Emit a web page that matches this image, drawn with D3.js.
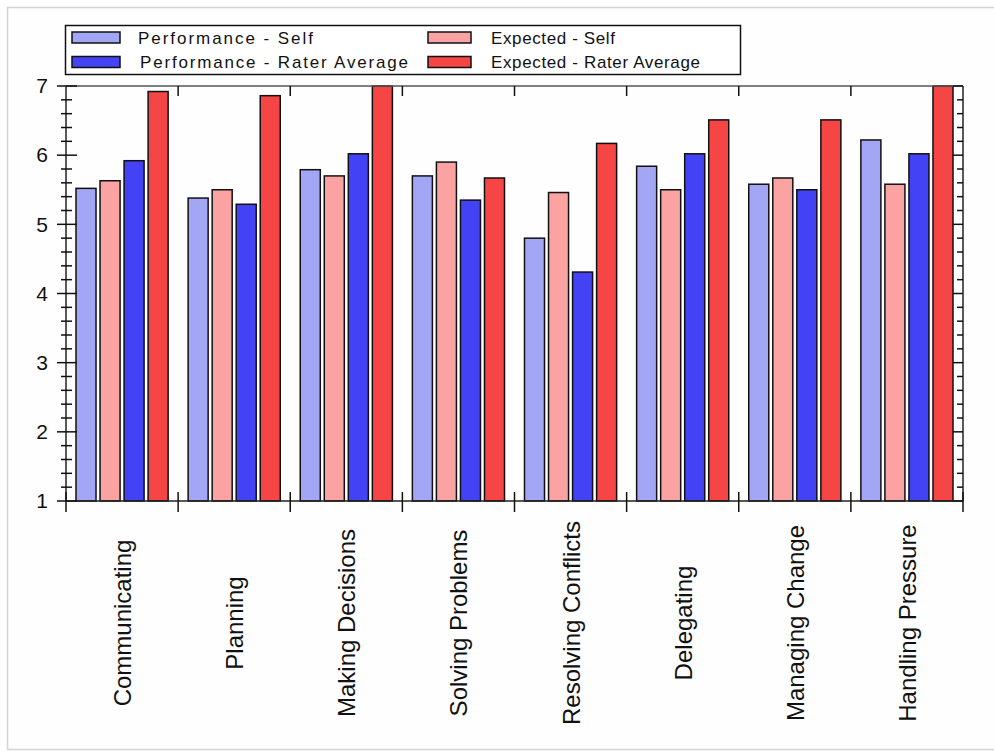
<!DOCTYPE html>
<html>
<head>
<meta charset="utf-8">
<script src="https://cdn.jsdelivr.net/npm/d3@7"></script>
<style>
  html, body { margin: 0; padding: 0; background: #ffffff; }
  svg { display: block; }
  text { font-family: "Liberation Sans", Arial, sans-serif; fill: #111; }
</style>
</head>
<body>
<svg id="chart" width="994" height="752"></svg>
<script>
// ---------- data ----------
const categories = ["Communicating", "Planning", "Making Decisions", "Solving Problems",
                    "Resolving Conflicts", "Delegating", "Managing Change", "Handling Pressure"];
const seriesNames = ["Performance - Self", "Expected - Self", "Performance - Rater Average", "Expected - Rater Average"];
const perfSelf  = [5.52, 5.38, 5.79, 5.70, 4.80, 5.84, 5.58, 6.22];
const expSelf   = [5.63, 5.50, 5.70, 5.90, 5.46, 5.50, 5.67, 5.58];
const perfRater = [5.92, 5.29, 6.02, 5.35, 4.31, 6.02, 5.50, 6.02];
const expRater  = [6.92, 6.86, 7.00, 5.67, 6.17, 6.51, 6.51, 7.00];
const yTickLabels = [1, 2, 3, 4, 5, 6, 7];
const yDomain = [1, 7];

// ---------- styling / layout ----------
const colors = ["#a3a6f5", "#fba3a3", "#4343f5", "#f54545"];
const seriesValues = [perfSelf, expSelf, perfRater, expRater];
const plot = { left: 66, right: 963, top: 86, bottom: 501 };

const svg = d3.select("#chart");

// outer frame
svg.append("rect").attr("x", 7.5).attr("y", 7.5).attr("width", 1000).attr("height", 742)
  .attr("fill", "#fefefe").attr("stroke", "#d4d4d4").attr("stroke-width", 1.5);

const x0 = d3.scaleBand().domain(categories).range([plot.left, plot.right]).padding(0);
const x1 = d3.scaleBand().domain(seriesNames).range([10, x0.bandwidth() - 10]).paddingInner(0.167).paddingOuter(0);
const y = d3.scaleLinear().domain(yDomain).range([plot.bottom, plot.top]);

// bars
const groups = svg.append("g").selectAll("g").data(categories).join("g")
  .attr("transform", d => `translate(${x0(d)},0)`);
groups.selectAll("rect")
  .data((d, i) => seriesNames.map((s, k) => ({ s, k, v: seriesValues[k][i] })))
  .join("rect")
  .attr("x", d => x1(d.s))
  .attr("width", x1.bandwidth())
  .attr("y", d => y(d.v))
  .attr("height", d => y(yDomain[0]) - y(d.v))
  .attr("fill", d => colors[d.k])
  .attr("stroke", "#111")
  .attr("stroke-width", 1.5);

// frame lines
const frame = svg.append("g").attr("stroke", "#222").attr("stroke-width", 1.5);
frame.append("line").attr("x1", plot.left).attr("x2", plot.right).attr("y1", plot.top).attr("y2", plot.top).attr("stroke", "#555");
frame.append("line").attr("x1", plot.left).attr("x2", plot.right).attr("y1", plot.bottom).attr("y2", plot.bottom);
frame.append("line").attr("x1", plot.left).attr("x2", plot.left).attr("y1", plot.top).attr("y2", plot.bottom);
frame.append("line").attr("x1", plot.right).attr("x2", plot.right).attr("y1", plot.top).attr("y2", plot.bottom);

// y ticks (minor every 0.2)
const minor = d3.range(yDomain[0], yDomain[1] + 0.001, 0.2).map(v => +v.toFixed(2));
const isMajor = v => Math.abs(v - Math.round(v)) < 1e-6;
const tk = svg.append("g").attr("stroke", "#111").attr("stroke-width", 1.5);
minor.forEach(v => {
  const yy = y(v);
  if (isMajor(v)) {
    tk.append("line").attr("x1", plot.left - 9).attr("x2", plot.left + 11).attr("y1", yy).attr("y2", yy);
    tk.append("line").attr("x1", plot.right - 10).attr("x2", plot.right).attr("y1", yy).attr("y2", yy);
  } else {
    tk.append("line").attr("x1", plot.left - 5).attr("x2", plot.left + 6).attr("y1", yy).attr("y2", yy);
    tk.append("line").attr("x1", plot.right - 6).attr("x2", plot.right).attr("y1", yy).attr("y2", yy);
  }
});

// y labels via d3 axis
const yAxis = svg.append("g").attr("transform", `translate(${plot.left},0)`)
  .call(d3.axisLeft(y).tickValues(yTickLabels).tickSize(0).tickPadding(18).tickFormat(d3.format("d")));
yAxis.select(".domain").remove();
yAxis.selectAll("text").attr("font-size", 21).style("font-family", '"Liberation Sans", Arial, sans-serif').attr("fill", "#111");

// category boundary ticks
const bounds = categories.map(c => x0(c)).concat([plot.right]);
bounds.forEach((bx, i) => {
  tk.append("line").attr("x1", bx).attr("x2", bx).attr("y1", plot.bottom - 9).attr("y2", plot.bottom + 11);
  if (i > 0 && i < bounds.length - 1)
    tk.append("line").attr("x1", bx).attr("x2", bx).attr("y1", plot.top).attr("y2", plot.top + 10);
});

// category labels
svg.append("g").selectAll("text").data(categories).join("text")
  .attr("transform", d => `translate(${x0(d) + x0.bandwidth() / 2 + 9},623) rotate(-90)`)
  .attr("text-anchor", "middle")
  .attr("font-size", 24)
  .text(d => d);

// legend
const legend = svg.append("g");
legend.append("rect").attr("x", 65.5).attr("y", 25.5).attr("width", 675).attr("height", 49)
  .attr("fill", "#fff").attr("stroke", "#111").attr("stroke-width", 1.5);
const legendPos = [
  { sx: 72, sw: 48, tx: 138, row: 0, len: 175 },
  { sx: 428, sw: 43, tx: 491, row: 0, len: 124 },
  { sx: 72, sw: 48, tx: 140, row: 1, len: 268 },
  { sx: 428, sw: 43, tx: 491, row: 1, len: 209 }
];
seriesNames.forEach((s, k) => {
  const p = legendPos[k];
  const cy = 37.5 + p.row * 24.5;
  legend.append("rect").attr("x", p.sx).attr("y", cy - 5.5).attr("width", p.sw).attr("height", 11)
    .attr("fill", colors[k]).attr("stroke", "#111").attr("stroke-width", 1.5);
  legend.append("text").attr("x", p.tx).attr("y", cy + 6)
    .attr("font-size", 17)
    .attr("textLength", p.len).attr("lengthAdjust", "spacing")
    .text(s);
});
</script>
</body>
</html>
